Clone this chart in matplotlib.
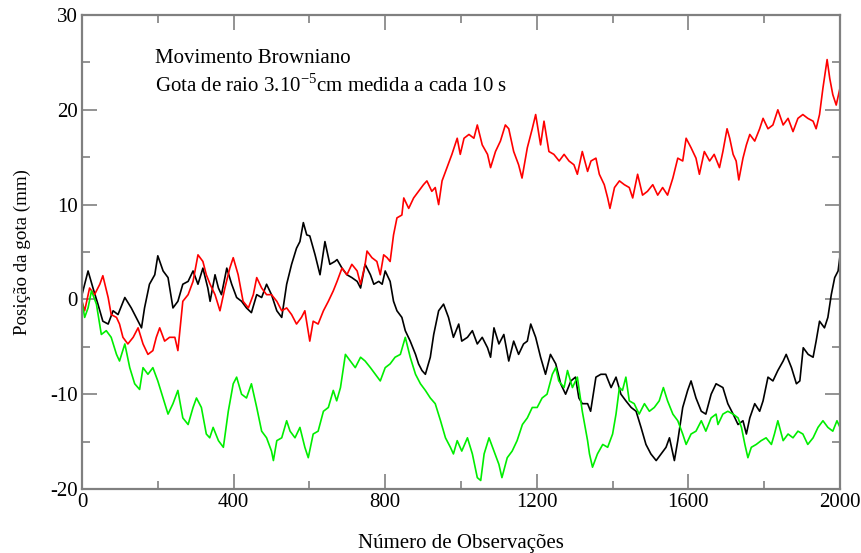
import matplotlib
matplotlib.use("Agg")
import matplotlib.pyplot as plt
from matplotlib.ticker import MultipleLocator

plt.rcParams['font.family'] = ['Liberation Serif', 'DejaVu Serif']
plt.rcParams['axes.unicode_minus'] = False

black_obs = [0,16,29,42,55,69,82,95,113,130,143,157,165,178,192,200,214,227,240,253,266,280,293,306,319,332,
             338,351,360,368,382,395,408,421,434,447,461,474,487,500,514,527,540,553,566,575,584,593,601,615,628,641,654,667,
             673,686,699,712,726,735,747,761,770,783,792,800,813,822,831,844,853,866,880,888,897,906,919,928,941,954,967,980,994,1002,
             1017,1030,1043,1056,1070,1078,1087,1100,1113,1126,1139,1152,1165,1175,1184,1197,1210,1223,1236,1250,1263,1276,1290,1302,1311,1320,1334,1342,
             1356,1369,1382,1396,1409,1422,1435,1449,1462,1475,1488,1501,1515,1528,1541,1550,1563,1572,1585,1598,1607,1620,1634,1646,1660,1673,
             1691,1704,1718,1731,1744,1753,1762,1775,1788,1797,1810,1823,1836,1850,1858,1872,1885,1894,1903,1916,1929,1937,1946,1959,1968,1977,1986,1995,2000]
black_val = [0.5,3,1.2,-0.5,-2.3,-2.6,-1.2,-1.6,0.2,-0.9,-1.9,-3,-0.9,1.6,2.6,4.6,3,2.3,-0.9,-0.2,1.6,1.9,3,1.6,3.3,1.2,
             -0.2,2.6,1.2,0.5,3.3,1.6,0.2,-0.2,-0.9,-1.4,0.5,0.2,1.6,0.5,-1.2,-1.9,1.6,3.7,5.4,6.1,8.1,6.8,6.7,4.7,2.6,6.1,3.7,4.0,
             4.2,3.3,2.6,2.3,1.9,1.2,3.7,2.6,1.6,1.9,1.6,3.0,1.9,-0.2,-1.2,-1.9,-3.3,-4.4,-5.8,-6.8,-7.5,-7.9,-6.1,-3.7,-1.2,-0.5,-1.9,-4.0,-2.6,-4.4,
             -4.0,-3.3,-4.7,-4.0,-5.1,-6.1,-3.0,-4.7,-3.7,-6.5,-4.4,-5.8,-4.7,-4.4,-2.6,-4.0,-6.1,-7.9,-5.8,-6.8,-8.9,-10.0,-8.6,-8.2,-10.4,-11.0,-11.0,-11.8,
             -8.2,-7.9,-7.9,-9.3,-8.2,-10.0,-10.7,-11.4,-11.8,-13.5,-15.3,-16.3,-17.0,-16.3,-15.6,-14.6,-17.0,-14.9,-11.4,-9.6,-8.6,-10.4,-11.8,-12.1,-10.0,-8.9,
             -9.3,-11.0,-12.1,-13.2,-12.8,-14.2,-12.5,-11.0,-11.8,-10.7,-8.2,-8.6,-7.5,-6.5,-5.8,-7.2,-8.9,-8.6,-5.1,-5.8,-6.1,-4.4,-2.3,-3.0,-1.9,0.5,2.3,3.0,4.6]

red_obs = [0,7,20,33,47,55,69,77,91,99,108,121,135,148,161,174,187,196,205,218,231,245,253,266,280,293,306,319,328,
           338,351,364,377,390,399,412,425,439,452,461,474,487,500,514,527,540,553,566,579,588,601,610,623,637,650,663,
           673,686,699,712,726,735,747,752,765,778,787,796,805,813,822,831,844,849,862,875,888,901,910,923,932,941,950,963,976,990,998,
           1008,1021,1034,1043,1056,1070,1078,1091,1104,1117,1126,1139,1152,1161,1175,1188,1197,1210,1219,1232,1245,1259,1272,1285,1298,1307,1320,1334,
           1343,1356,1365,1378,1387,1393,1405,1418,1431,1444,1453,1466,1479,1492,1506,1519,1532,1545,1559,1572,1585,1594,1607,1620,1629,1642,1656,1668,
           1682,1691,1702,1709,1718,1726,1733,1744,1753,1762,1775,1788,1797,1810,1823,1836,1850,1863,1876,1889,1902,1915,1929,1937,1946,1955,1966,1973,1981,1990,2000]
red_val = [-0.2,-1.2,1.2,0.5,1.6,2.5,0.2,-1.6,-1.9,-2.6,-4.0,-4.7,-4.0,-3.0,-4.7,-5.8,-5.4,-4.0,-3.0,-4.4,-4.0,-4.0,-5.4,-0.2,0.5,1.9,4.7,4.0,2.6,
           1.6,0.5,-1.2,1.2,3.3,4.4,2.6,-0.2,-0.9,0.5,2.3,1.2,0.5,0.5,-0.2,-1.2,-0.9,-1.6,-2.6,-1.9,-1.2,-4.4,-2.3,-2.6,-1.2,-0.2,0.9,
           1.9,3.3,2.6,3.7,3.0,1.6,3.7,5.1,4.4,4.0,2.6,4.7,4.4,4.0,6.8,8.6,8.9,10.7,9.6,10.7,11.4,12.1,12.5,11.4,11.8,10.0,12.5,13.9,15.3,17.0,15.3,
           17.0,17.4,17.0,18.4,16.3,15.3,13.9,15.6,16.7,18.4,18.0,15.6,14.2,12.8,16.0,18.0,19.5,16.3,18.8,15.6,15.3,14.6,15.3,14.6,14.2,13.2,15.6,13.5,
           14.6,14.9,13.2,12.1,10.7,9.6,11.8,12.5,12.1,11.8,10.7,13.2,11.0,11.4,12.1,11.0,11.8,11.0,12.8,14.9,14.6,17.0,16.0,14.9,13.2,15.6,14.6,15.3,
           13.9,15.6,18.0,17.0,15.3,14.6,12.6,14.9,16.3,17.4,16.7,18.0,19.1,18.0,18.4,20.0,18.4,19.1,17.7,19.1,19.5,19.1,18.8,18.0,19.5,22.3,25.3,23.3,21.6,20.5,22.3]

green_obs = [0,7,16,25,38,51,64,77,91,99,113,126,139,152,161,174,187,200,214,227,240,253,266,280,293,302,315,328,
             337,346,360,373,386,399,408,421,434,447,461,474,487,500,505,514,527,540,549,562,575,588,597,610,623,637,650,663,672,
             682,695,708,721,735,747,761,774,787,800,813,826,840,853,866,880,893,906,919,932,946,959,972,980,990,1002,
             1017,1030,1043,1052,1061,1074,1087,1100,1108,1122,1135,1148,1162,1175,1188,1201,1214,1227,1241,1250,1258,1272,1281,1294,1307,1320,1334,
             1339,1347,1360,1374,1387,1400,1409,1418,1426,1435,1444,1457,1470,1484,1497,1510,1523,1534,1545,1559,1572,1585,1594,1607,1620,1634,1646,1660,1673,
             1678,1691,1704,1718,1731,1740,1749,1757,1766,1779,1792,1805,1819,1827,1836,1850,1863,1876,1889,1902,1915,1929,1942,1955,1968,1981,1992,2000]
green_val = [-0.2,-1.9,-0.9,0.9,-0.5,-3.7,-3.3,-4.0,-5.8,-6.5,-4.7,-7.2,-8.9,-9.5,-7.2,-7.9,-7.2,-8.6,-10.4,-12.1,-11.0,-9.6,-12.5,-13.2,-11.4,-10.4,-11.4,-14.2,
             -14.6,-13.5,-14.9,-15.6,-11.8,-8.9,-8.2,-10.0,-10.4,-8.9,-11.4,-13.9,-14.6,-16.0,-17.0,-14.9,-14.6,-12.8,-13.9,-14.6,-13.5,-15.6,-16.7,-14.2,-13.9,-11.8,-11.4,-9.6,-10.7,
             -9.3,-5.8,-6.5,-7.2,-6.1,-6.5,-7.2,-7.9,-8.6,-7.2,-6.8,-6.1,-5.8,-4.0,-6.1,-7.9,-8.9,-9.6,-10.4,-11.0,-12.8,-14.6,-15.6,-16.3,-14.9,-16.0,
             -14.6,-16.3,-18.8,-19.1,-16.3,-14.6,-16.0,-17.4,-18.8,-16.7,-16.0,-14.9,-13.2,-12.5,-11.4,-11.4,-10.4,-10.0,-7.9,-7.2,-8.6,-9.3,-7.5,-9.3,-8.2,-11.8,-14.9,
             -16.3,-17.7,-16.3,-15.3,-15.6,-14.2,-12.1,-9.3,-9.6,-8.2,-10.7,-11.0,-12.1,-11.0,-11.8,-11.4,-10.7,-9.3,-10.7,-12.1,-12.8,-14.2,-15.3,-14.2,-13.9,-12.8,-13.9,-12.5,-12.1,
             -13.2,-12.1,-11.8,-12.1,-12.5,-13.5,-15.3,-16.7,-15.6,-15.3,-14.9,-14.6,-15.3,-14.2,-12.8,-14.9,-14.2,-14.6,-13.9,-14.2,-15.3,-14.6,-13.5,-12.8,-13.5,-13.9,-12.8,-13.5]

x_ticks = [0, 400, 800, 1200, 1600, 2000]
y_ticks = [-20, -10, 0, 10, 20, 30]

fig = plt.figure(figsize=(8.61, 5.53), dpi=100)
ax = fig.add_axes([82/861, 64/553, 758/861, 474/553])

ax.plot(black_obs, black_val, color='black', lw=1.2)
ax.plot(red_obs, red_val, color='#ff0000', lw=1.2)
ax.plot(green_obs, green_val, color='#00ee00', lw=1.2)

ax.set_xlim(0, 2000)
ax.set_ylim(-20, 30)
ax.set_xticks(x_ticks)
ax.set_yticks(y_ticks)
ax.xaxis.set_minor_locator(MultipleLocator(200))
ax.yaxis.set_minor_locator(MultipleLocator(5))
ax.tick_params(which='both', direction='in', top=True, right=True, color='#808080', width=1.2, labelsize=15, pad=3)
ax.tick_params(which='major', length=11)
ax.tick_params(which='minor', length=6)
for s in ax.spines.values():
    s.set_color('#808080')
    s.set_linewidth(1.6)

ax.set_xlabel('Número de Observações', fontsize=15)
ax.xaxis.set_label_coords(0.5, -0.114)
ax.xaxis.label.set_va('center')
ax.set_ylabel('Posição da gota (mm)', fontsize=13.7)
ax.yaxis.set_label_coords(-0.079, 0.5)
ax.yaxis.label.set_va('center')

ax.text(193, 25.4, 'Movimento Browniano', fontsize=15, va='center')
ax.text(193, 22.6, r'Gota de raio 3.10$^{\mathregular{-5}}$cm medida a cada 10 s', fontsize=15, va='center')

fig.savefig('out.png', dpi=100)
